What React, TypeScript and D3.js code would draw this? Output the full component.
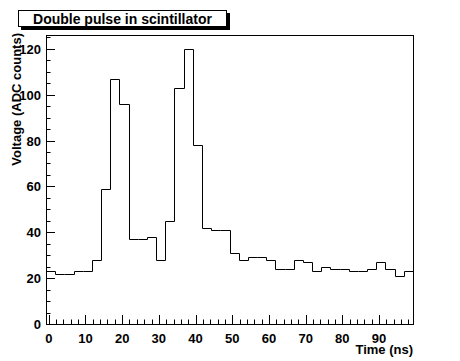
import React from "react";
import * as d3 from "d3";

const binEdgesStart = -0.75;
const binWidth = 2.5;
const counts = [23, 22, 22, 23, 23, 28, 59, 107, 96, 37, 37, 38, 28, 45, 103, 120, 78, 42, 41, 41, 31, 28, 29, 29, 28, 24, 24, 28, 27, 23, 25, 24, 24, 23, 23, 24, 27, 24, 21, 23];
const xTicks = [0, 10, 20, 30, 40, 50, 60, 70, 80, 90];
const yTicks = [0, 20, 40, 60, 80, 100, 120];
const titleText = "Double pulse in scintillator";
const xTitle = "Time (ns)";
const yTitle = "Voltage (ADC counts)";

const W = 460, H = 361;
const L = 46, R = 413, T = 35, B = 324;
const FONT = "'Liberation Sans', Arial, Helvetica, sans-serif";

export default function App() {
  const xmin = binEdgesStart;
  const xmax = binEdgesStart + counts.length * binWidth;
  const x = d3.scaleLinear().domain([xmin, xmax]).range([L, R]);
  const ymax = 1.05 * (d3.max(counts) as number);
  const y = d3.scaleLinear().domain([0, ymax]).range([B, T]);

  const pts: [number, number][] = [];
  counts.forEach((c, i) => {
    const x0 = xmin + i * binWidth;
    pts.push([x0, c]);
    pts.push([x0 + binWidth, c]);
  });
  const px = (v: number) => Math.round(x(v)) + 0.5;
  const py = (v: number) => Math.round(y(v)) + 0.5;
  const line = d3.line<[number, number]>().x(d => px(d[0])).y(d => py(d[1]));

  const xMinor: number[] = [];
  for (let v = 0; v <= xmax; v += 2) if (v % 10 !== 0) xMinor.push(v);
  const yMinor: number[] = [];
  for (let v = 0; v <= ymax; v += 5) if (v % 20 !== 0) yMinor.push(v);

  return (
    <svg width={W} height={H} style={{ position: "absolute", left: 0, top: 0, background: "#fff" }}>
      <rect x={0} y={0} width={W} height={H} fill="#fff" />
      {/* frame */}
      <rect x={L + 0.5} y={T + 0.5} width={R - L} height={B - T} fill="none" stroke="#000" strokeWidth={1} />
      {/* histogram */}
      <path d={line(pts) || ""} fill="none" stroke="#000" strokeWidth={1} />
      {/* x ticks */}
      {xTicks.map(v => (
        <line key={"xt" + v} x1={px(v)} x2={px(v)} y1={B} y2={B - 9} stroke="#000" />
      ))}
      {xMinor.map(v => (
        <line key={"xm" + v} x1={px(v)} x2={px(v)} y1={B} y2={B - 4.5} stroke="#000" />
      ))}
      {xTicks.map(v => (
        <text key={"xl" + v} x={x(v)} y={343} textAnchor="middle" fontFamily={FONT} fontWeight="bold" fontSize={13}>{v}</text>
      ))}
      {/* y ticks */}
      {yTicks.map(v => (
        <line key={"yt" + v} x1={L} x2={L + 9} y1={py(v)} y2={py(v)} stroke="#000" />
      ))}
      {yMinor.map(v => (
        <line key={"ym" + v} x1={L} x2={L + 4.5} y1={py(v)} y2={py(v)} stroke="#000" />
      ))}
      {yTicks.map(v => (
        <text key={"yl" + v} x={41} y={y(v) + 5} textAnchor="end" fontFamily={FONT} fontWeight="bold" fontSize={13}>{v}</text>
      ))}
      {/* axis titles */}
      <text x={413} y={354} textAnchor="end" fontFamily={FONT} fontWeight="bold" fontSize={13}>{xTitle}</text>
      <text transform="translate(21,33) rotate(-90)" textAnchor="end" fontFamily={FONT} fontWeight="bold" fontSize={13}>{yTitle}</text>
      {/* title box */}
      <rect x={21} y={13} width={209} height={17} fill="#000" />
      <rect x={18.5} y={10.5} width={208} height={16} fill="#fff" stroke="#000" strokeWidth={1} />
      <text x={122.5} y={23.5} textAnchor="middle" fontFamily={FONT} fontWeight="bold" fontSize={14}>{titleText}</text>
    </svg>
  );
}
